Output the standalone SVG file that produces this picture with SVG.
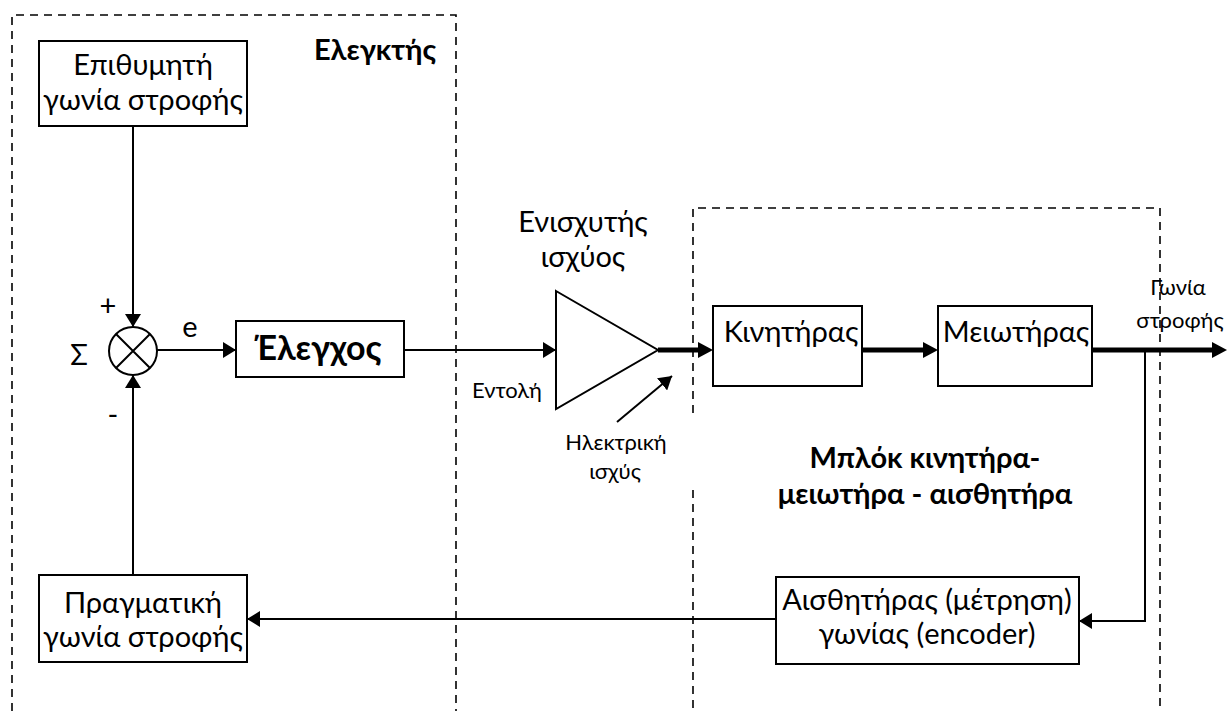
<svg xmlns="http://www.w3.org/2000/svg" width="1227" height="711" viewBox="0 0 1227 711">
  <style>
    .box { fill: #fff; stroke: #000; stroke-width: 2; }
    .dash { fill: none; stroke: #000; stroke-width: 1.6; stroke-dasharray: 8 6; }
    .wire { fill: none; stroke: #000; stroke-width: 2; }
    .thick { fill: none; stroke: #000; stroke-width: 5; }
    text { font-family: Lato, "Open Sans", "Noto Sans", sans-serif; fill: #000; text-anchor: middle; }
    .big { font-size: 29px; }
    .small { font-size: 22px; }
    .b { font-weight: bold; }
  </style>
  <defs>
    <marker id="arrS" viewBox="0 0 13 16" refX="13" refY="8" markerWidth="13" markerHeight="16" markerUnits="userSpaceOnUse" orient="auto">
      <path d="M0,0 L13,8 L0,16 z" fill="#000"/>
    </marker>
  </defs>
  <rect width="1227" height="711" fill="#fff"/>

  <!-- region outlines -->
  <g id="controller-region">
    <path class="dash" d="M12,711 L12,15 L456,15 L456,711"/>
    <text class="big b" x="375" y="60">Ελεγκτής</text>
  </g>
  <g id="plant-region">
    <path class="dash" d="M693,413 L693,208 L1160,208 L1160,711 M693,490 L693,711"/>
    <text class="big b" x="925" y="468">Μπλόκ κινητήρα-</text>
    <text class="big b" x="925" y="504">μειωτήρα - αισθητήρα</text>
  </g>

  <!-- connectors -->
  <g id="connectors">
    <line class="wire" x1="133" y1="126" x2="133" y2="327" marker-end="url(#arrS)"/>
    <line class="wire" x1="133" y1="575" x2="133" y2="375" marker-end="url(#arrS)"/>
    <line class="wire" x1="157" y1="350" x2="236" y2="350" marker-end="url(#arrS)"/>
    <line class="wire" x1="404" y1="350" x2="556" y2="350" marker-end="url(#arrS)"/>
    <line class="thick" x1="658" y1="350" x2="700" y2="350"/>
    <path d="M698,342 L713,350 L698,358 z" fill="#000"/>
    <line class="wire" x1="617" y1="422" x2="672" y2="376" marker-end="url(#arrS)"/>
    <line class="thick" x1="862" y1="350" x2="925" y2="350"/>
    <path d="M923,342 L938,350 L923,358 z" fill="#000"/>
    <line class="thick" x1="1092" y1="350" x2="1214" y2="350"/>
    <path d="M1212,342 L1227,350 L1212,358 z" fill="#000"/>
    <path class="wire" d="M1145,350 L1145,621 L1079,621" marker-end="url(#arrS)"/>
    <line class="wire" x1="776" y1="619" x2="247" y2="619" marker-end="url(#arrS)"/>
    <text class="small" x="507" y="398">Εντολή</text>
    <text class="big" x="190" y="337">e</text>
    <text class="small" x="1178" y="295">Γωνία</text>
    <text class="small" x="1180" y="328">στροφής</text>
  </g>

  <!-- blocks -->
  <g id="setpoint">
    <rect class="box" x="39" y="41" width="208" height="85"/>
    <text class="big" x="143" y="75">Επιθυμητή</text>
    <text class="big" x="143" y="110">γωνία στροφής</text>
  </g>
  <g id="summer">
    <circle class="box" cx="133" cy="351" r="24"/>
    <path class="wire" d="M116,334 L150,368 M150,334 L116,368"/>
    <text class="big" x="108" y="316">+</text>
    <text class="big" x="79" y="365">Σ</text>
    <text class="big" x="113" y="425">-</text>
  </g>
  <g id="control">
    <rect class="box" x="236" y="321" width="168" height="56"/>
    <text class="b" font-size="34" x="318" y="360">Έλεγχος</text>
  </g>
  <g id="amplifier">
    <path class="box" d="M556,291 L658,350 L556,409 z"/>
    <text class="big" x="583" y="232">Ενισχυτής</text>
    <text class="big" x="583" y="267">ισχύος</text>
    <text class="small" x="616" y="450">Ηλεκτρική</text>
    <text class="small" x="615" y="479">ισχύς</text>
  </g>
  <g id="motor">
    <rect class="box" x="713" y="306" width="149" height="80"/>
    <text class="big" x="791" y="342">Κινητήρας</text>
  </g>
  <g id="gearbox">
    <rect class="box" x="938" y="306" width="154" height="80"/>
    <text class="big" x="1016" y="342">Μειωτήρας</text>
  </g>
  <g id="encoder">
    <rect class="box" x="776" y="577" width="303" height="87"/>
    <text class="big" x="927" y="610">Αισθητήρας (μέτρηση)</text>
    <text class="big" x="927" y="644">γωνίας (encoder)</text>
  </g>
  <g id="measured">
    <rect class="box" x="39" y="575" width="208" height="87"/>
    <text class="big" x="143" y="613">Πραγματική</text>
    <text class="big" x="143" y="647">γωνία στροφής</text>
  </g>
</svg>
